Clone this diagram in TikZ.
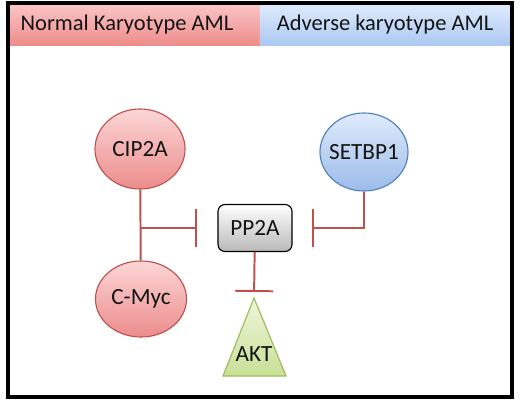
\documentclass[tikz,border=0pt]{standalone}
\usepackage{fontspec}
\setmainfont{Carlito}
\usepackage{tikz}
\usetikzlibrary{arrows.meta,shapes.geometric}
\definecolor{inhred}{RGB}{192,80,77}
\definecolor{cellred}{RGB}{192,80,77}
\definecolor{cellblue}{RGB}{79,129,189}
\definecolor{aktgreen}{RGB}{155,187,89}
\definecolor{textgray}{RGB}{20,20,20}

\begin{document}
\begin{tikzpicture}[x=0.025cm,y=-0.025cm,every node/.style={font=\fontsize{16.5}{19}\selectfont,text=textgray},
  header/.style={minimum width=6.25cm,minimum height=1cm,inner sep=0pt,font=\fontsize{16}{19}\selectfont},
  redcell/.style={ellipse,draw=cellred,line width=0.8pt,inner xsep=-0.1cm,top color={rgb,255:red,252;green,214;blue,214},bottom color={rgb,255:red,236;green,140;blue,140}},
  bluecell/.style={ellipse,draw=cellblue,line width=0.8pt,inner xsep=-0.1cm,top color={rgb,255:red,224;green,235;blue,251},bottom color={rgb,255:red,155;green,188;blue,234}},
  inh/.style={draw=inhred,line width=1.4pt,-{Bar[width=0.95cm]}}]
\useasboundingbox (0,0) rectangle (520,400);
% header
\node[header,top color={rgb,255:red,249;green,196;blue,196},bottom color={rgb,255:red,240;green,140;blue,140}] (nk) at (135,25) {\hspace*{-0.4cm}Normal Karyotype AML};
\node[header,top color={rgb,255:red,222;green,234;blue,252},bottom color={rgb,255:red,172;green,201;blue,242}] (ak) at (385,25) {Adverse karyotype AML};
\draw[line width=2.2pt] (8,3) rectangle (512,397);
% cells
\node[redcell,minimum width=2.25cm,minimum height=2cm] (cip) at (140,149) {CIP2A};
\node[redcell,minimum width=2.275cm,minimum height=1.9cm] (myc) at (141,299) {C-Myc};
\node[bluecell,minimum width=2.2cm,minimum height=1.95cm] (setbp) at (364,152) {SETBP1};
\node[draw,line width=0.8pt,rounded corners=5pt,top color=white,bottom color={rgb,255:red,185;green,185;blue,185},minimum width=1.85cm,minimum height=1.175cm] (pp2a) at (255,228) {PP2A};
% AKT
\shade[top color={rgb,255:red,238;green,246;blue,220},bottom color={rgb,255:red,200;green,224;blue,150}] (254,298) -- (286,376) -- (223,376) -- cycle;
\draw[aktgreen,line width=0.8pt] (254,298) -- (286,376) -- (223,376) -- cycle;
\node (akt) at (254,354) {AKT};
\coordinate (akttop) at (254,298);
\coordinate (j1) at (141,228);
% connectors
\draw[inhred,line width=1.4pt] (cip) -- (myc);
\draw[inh,shorten >=0.52cm] (j1) -- (pp2a.west);
\draw[inh,shorten >=0.15cm] (pp2a) -- (akttop);
\draw[inh,shorten >=0.48cm] (setbp) |- (pp2a.east);
\end{tikzpicture}
\end{document}
